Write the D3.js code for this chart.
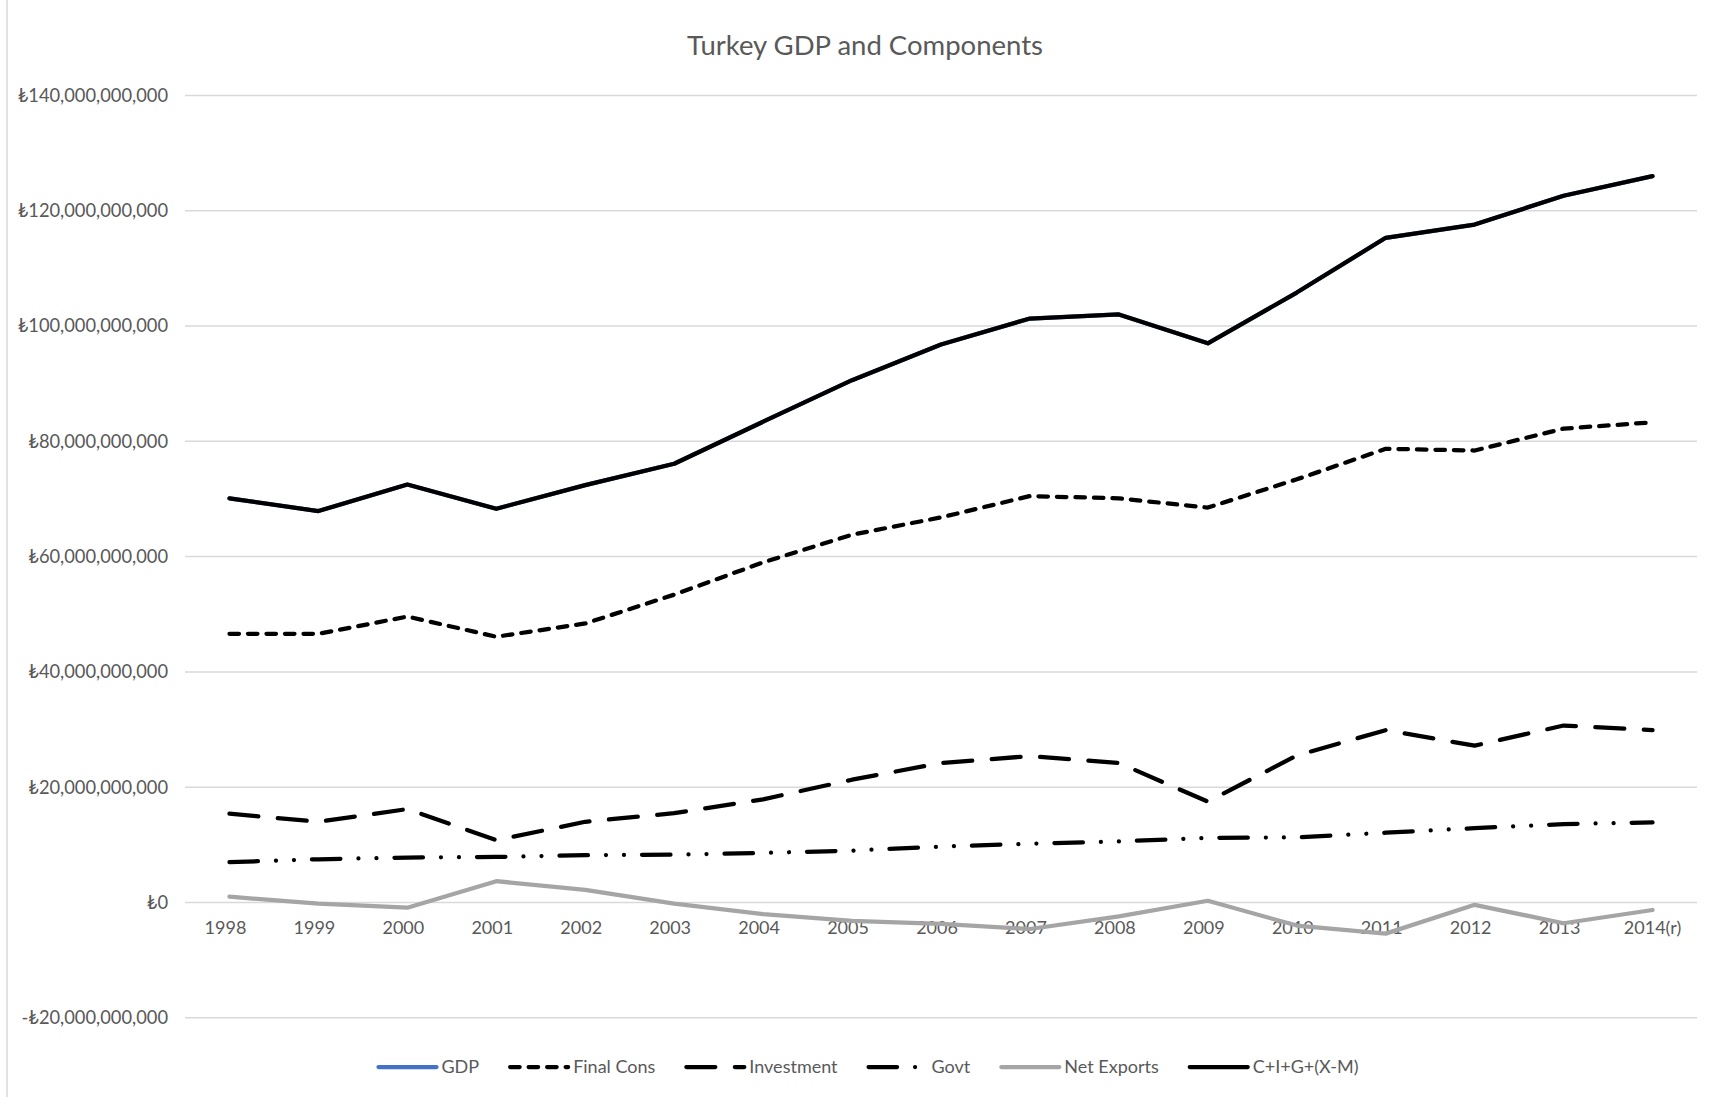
<!DOCTYPE html>
<html>
<head>
<meta charset="utf-8">
<script src="https://cdn.jsdelivr.net/npm/d3@7"></script>
<style>
  html, body { margin: 0; padding: 0; background: #fff; }
  svg { display: block; font-family: Lato, "Noto Sans", "DejaVu Sans", sans-serif; }
</style>
</head>
<body>
<svg id="chart" width="1727" height="1097"></svg>
<script>
// Turkey: GDP and its expenditure components, billions of lira
const years = ["1998", "1999", "2000", "2001", "2002", "2003", "2004", "2005", "2006",
               "2007", "2008", "2009", "2010", "2011", "2012", "2013", "2014(r)"];

const gdp        = [70.1, 67.9, 72.5, 68.3, 72.4, 76.1, 83.4, 90.6, 96.8, 101.3, 102.0, 97.0, 105.8, 115.3, 117.6, 122.6, 126.0];
const finalCons  = [46.6, 46.6, 49.6, 46.1, 48.4, 53.4, 59.0, 63.8, 66.8, 70.5, 70.1, 68.5, 73.4, 78.7, 78.4, 82.2, 83.3];
const investment = [15.4, 14.0, 16.2, 10.8, 14.0, 15.5, 17.9, 21.3, 24.2, 25.4, 24.2, 17.5, 25.5, 29.9, 27.2, 30.7, 29.9];
const govt       = [ 7.0,  7.5,  7.8,  7.9,  8.2,  8.3,  8.6,  9.0,  9.7, 10.2, 10.6, 11.2, 11.3, 12.1, 12.9, 13.6, 13.9];
const netExports = [ 1.0, -0.2, -0.9,  3.7,  2.2, -0.2, -2.0, -3.2, -3.7, -4.6, -2.4,  0.3, -4.0, -5.4, -0.4, -3.6, -1.3];
const cigxm      = [70.1, 67.9, 72.5, 68.3, 72.4, 76.1, 83.4, 90.6, 96.8, 101.3, 102.0, 97.0, 105.8, 115.3, 117.6, 122.6, 126.0];

const yTicks = [-20, 0, 20, 40, 60, 80, 100, 120, 140];
const titleText = "Turkey GDP and Components";

const series = [
  { name: "GDP",          values: gdp,        color: "#4472C4", dash: null },
  { name: "Final Cons",   values: finalCons,  color: "#000000", dash: "9.5,9" },
  { name: "Investment",   values: investment, color: "#000000", dash: "29,19.5" },
  { name: "Govt",         values: govt,       color: "#000000", dash: "28.5,18,0.01,18,0.01,18" },
  { name: "Net Exports",  values: netExports, color: "#A5A5A5", dash: null },
  { name: "C+I+G+(X-M)",  values: cigxm,      color: "#000000", dash: null }
];

const svg = d3.select("#chart");
const textColor = "#595959";
const lineWidth = 4.25;
const labelFont = "Lato, 'DejaVu Sans', sans-serif";

// chart-area frame (only its left edge falls inside the page)
svg.append("rect")
  .attr("x", 7).attr("y", -10).attr("width", 1800).attr("height", 1200)
  .attr("fill", "none").attr("stroke", "#D9D9D9").attr("stroke-width", 1.5);

const plot = { left: 185, right: 1697, top: 95.4, bottom: 1017.8 };

const x = d3.scaleBand().domain(years).range([plot.left, plot.right]).padding(0);
const cx = d => x(d) + x.bandwidth() / 2;
const y = d3.scaleLinear().domain([-20, 140]).range([plot.bottom, plot.top]);

// title
svg.append("text")
  .attr("x", 865).attr("y", 55)
  .attr("text-anchor", "middle")
  .attr("fill", textColor)
  .style("font-size", "27.5px")
  .text(titleText);

// horizontal gridlines
svg.append("g")
  .selectAll("line")
  .data(yTicks)
  .join("line")
  .attr("x1", plot.left).attr("x2", plot.right)
  .attr("y1", d => y(d)).attr("y2", d => y(d))
  .attr("stroke", "#D9D9D9").attr("stroke-width", 1.5);

// y axis labels
const num = d3.format(",");
const liraFmt = v => (v < 0 ? "-₺" : "₺") + num(Math.abs(v) * 1e9);
const yAxis = d3.axisLeft(y).tickValues(yTicks).tickFormat(liraFmt).tickSize(0).tickPadding(17);
const gy = svg.append("g").attr("transform", `translate(${plot.left},0)`).call(yAxis);
gy.select(".domain").remove();
gy.selectAll("text").attr("fill", textColor).style("font-size", "18.3px").style("font-family", labelFont);

// x axis labels (sit just under the zero line)
const xAxis = d3.axisBottom(x).tickSize(0).tickPadding(19);
const gx = svg.append("g").attr("transform", `translate(0,${y(0)})`).call(xAxis);
gx.select(".domain").remove();
gx.selectAll("text").attr("fill", textColor).style("font-size", "18px")
  .style("font-family", labelFont)
  .attr("dx", d => d.length === 4 ? -4 : 0);

// series lines
const line = d3.line().x((d, i) => cx(years[i])).y(d => y(d));
svg.append("g")
  .selectAll("path")
  .data(series)
  .join("path")
  .attr("d", s => line(s.values))
  .attr("fill", "none")
  .attr("stroke", s => s.color)
  .attr("stroke-width", lineWidth)
  .attr("stroke-linejoin", "round")
  .attr("stroke-linecap", "round")
  .attr("stroke-dasharray", s => s.dash);

// legend, laid out centred beneath the plot
const legendY = 1067;
const legend = svg.append("g");
const items = legend.selectAll("g").data(series).join("g");
items.append("line")
  .attr("x1", 0).attr("x2", 58).attr("y1", 0).attr("y2", 0)
  .attr("stroke", s => s.color).attr("stroke-width", lineWidth)
  .attr("stroke-linecap", "round")
  .attr("stroke-dasharray", s => s.dash);
items.append("text")
  .attr("x", 63).attr("y", 0).attr("dy", "0.35em")
  .attr("fill", textColor).style("font-size", "18px")
  .text(s => s.name);

let widths = [];
items.each(function () { widths.push(63 + d3.select(this).select("text").node().getComputedTextLength()); });
const gap = 31;
const total = d3.sum(widths) + gap * (widths.length - 1);
let pos = 868.5 - total / 2;
items.attr("transform", (s, i) => {
  const t = `translate(${pos},${legendY})`;
  pos += widths[i] + gap;
  return t;
});
</script>
</body>
</html>
